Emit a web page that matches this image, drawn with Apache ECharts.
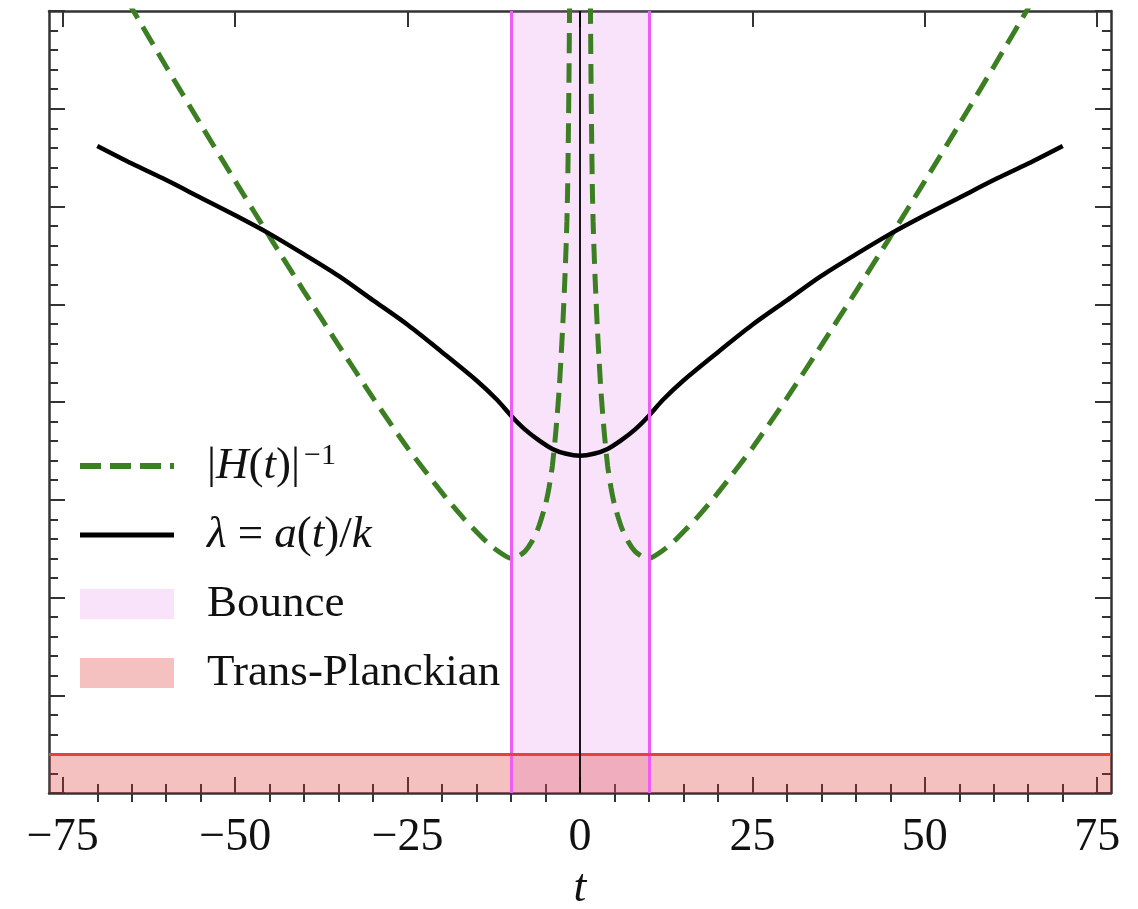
<!DOCTYPE html>
<html>
<head>
<meta charset="utf-8">
<script src="https://cdn.jsdelivr.net/npm/echarts@6.0.0/dist/echarts.min.js"></script>
<style>
  html, body { margin: 0; padding: 0; background: #fff; }
  #main { width: 1138px; height: 909px; }
</style>
</head>
<body>
<div id="main"></div>
<script>
// tick positions on t axis
const majorTicks = [-75, -50, -25, 0, 25, 50, 75]
const minorTicks = [-70, -65, -60, -55, -45, -40, -35, -30, -20, -15, -10, -5,
  5, 10, 15, 20, 30, 35, 40, 45, 55, 60, 65, 70]

// lambda = a(t)/k
const lambdaT = [-70, -65, -60, -55, -50, -45, -40, -35, -30, -25, -20, -15, -12, -10, -8, -6, -4, -2, 0,
  2, 4, 6, 8, 10, 12, 15, 20, 25, 30, 35, 40, 45, 50, 55, 60, 65, 70]
const lambdaVals = [6.62, 6.44, 6.27, 6.09, 5.91, 5.72, 5.51, 5.29, 5.04, 4.79, 4.51, 4.22, 4.02, 3.86, 3.72, 3.61, 3.52, 3.47, 3.45,
  3.47, 3.52, 3.61, 3.72, 3.86, 4.02, 4.22, 4.51, 4.79, 5.04, 5.29, 5.51, 5.72, 5.91, 6.09, 6.27, 6.44, 6.62]

// |H(t)|^-1, two branches either side of the bounce
const hubbleLeftT = [-70, -65, -60, -55, -50, -45, -40, -35, -30, -25, -20, -17, -14, -12, -10, -9, -8, -7, -6, -5,
  -4.5, -4, -3.5, -3, -2.5, -2.2, -2, -1.9, -1.8, -1.7, -1.6, -1.5, -1.4]
const hubbleLeftVals = [8.63, 8.03, 7.43, 6.84, 6.26, 5.69, 5.13, 4.58, 4.04, 3.53, 3.07, 2.82, 2.60, 2.48, 2.40, 2.42, 2.47, 2.57, 2.72, 2.95,
  3.12, 3.35, 3.70, 4.15, 4.78, 5.25, 5.62, 5.85, 6.15, 6.65, 7.30, 8.15, 9.30]
const hubbleRightT = [1.4, 1.5, 1.6, 1.7, 1.8, 1.9, 2, 2.2, 2.5, 3, 3.5, 4, 4.5, 5, 6, 7, 8, 9, 10,
  12, 14, 17, 20, 25, 30, 35, 40, 45, 50, 55, 60, 65, 70]
const hubbleRightVals = [9.30, 8.15, 7.30, 6.65, 6.15, 5.85, 5.62, 5.25, 4.78, 4.15, 3.70, 3.35, 3.12, 2.95, 2.72, 2.57, 2.47, 2.42, 2.40,
  2.48, 2.60, 2.82, 3.07, 3.53, 4.04, 4.58, 5.13, 5.69, 6.26, 6.84, 7.43, 8.03, 8.63]

// shaded regions
const bounceRange = [-10, 10]
const planckTop = 0.4

const pair = (ts, vs) => ts.map((t, i) => [t, vs[i]])

const chart = echarts.init(document.getElementById('main'))

const serif = 'Liberation Serif, DejaVu Serif, serif'
const frame = { color: '#333', width: 2.5 }
const tickStyle = { color: '#333', width: 2 }
const green = '#3b7f22'
const dash = [20, 10]

const H_NAME = 'H'
const L_NAME = 'lambda'

const xBase = {
  type: 'value',
  min: -77,
  max: 77,
  splitLine: { show: false },
  axisLabel: { show: false }
}
const yBase = {
  type: 'value',
  min: 0,
  max: 8,
  interval: 1,
  axisLine: { show: true, onZero: false, lineStyle: frame },
  axisTick: { show: true, inside: true, length: 16, lineStyle: tickStyle },
  minorTick: { show: true, splitNumber: 5, length: 9, lineStyle: tickStyle },
  axisLabel: { show: false },
  splitLine: { show: false },
  minorSplitLine: { show: false }
}

const option = {
  animation: false,
  grid: { left: 49, right: 27, top: 11, bottom: 116, outerBoundsMode: 'none', containLabel: false },
  xAxis: [
    Object.assign({}, xBase, {
      position: 'bottom',
      axisLine: { show: true, onZero: false, lineStyle: frame },
      axisTick: { show: true, inside: true, length: 16, customValues: majorTicks, lineStyle: tickStyle },
      axisLabel: {
        show: true,
        customValues: majorTicks,
        margin: 22,
        fontSize: 46,
        fontFamily: serif,
        color: '#111',
        formatter: v => (v < 0 ? '\u2212' + Math.abs(v) : String(v))
      },
      name: 't',
      nameLocation: 'middle',
      nameGap: 72,
      nameTextStyle: { fontSize: 46, fontFamily: serif, fontStyle: 'italic', color: '#111' }
    }),
    Object.assign({}, xBase, {
      position: 'bottom',
      axisLine: { show: false },
      axisTick: { show: true, inside: true, length: 9, customValues: minorTicks, lineStyle: tickStyle }
    }),
    Object.assign({}, xBase, {
      position: 'top',
      axisLine: { show: true, onZero: false, lineStyle: frame },
      axisTick: { show: true, inside: true, length: 16, customValues: majorTicks, lineStyle: tickStyle }
    }),
    Object.assign({}, xBase, {
      position: 'top',
      axisLine: { show: false },
      axisTick: { show: true, inside: true, length: 9, customValues: minorTicks, lineStyle: tickStyle }
    })
  ],
  yAxis: [
    Object.assign({}, yBase, { position: 'left' }),
    Object.assign({}, yBase, { position: 'right' })
  ],
  legend: {
    orient: 'vertical',
    left: 77,
    top: 441,
    padding: 0,
    itemWidth: 94,
    itemHeight: 30,
    itemGap: 24,
    selectedMode: false,
    data: [
      { name: H_NAME, itemStyle: { opacity: 0 }, lineStyle: { color: green, width: 6, type: [21, 9] } },
      { name: L_NAME, itemStyle: { opacity: 0 }, lineStyle: { color: '#000', width: 5 } },
      { name: 'Bounce', icon: 'rect', itemStyle: { color: '#f9e3fb' } },
      { name: 'Trans-Planckian', icon: 'rect', itemStyle: { color: '#f4c0c0' } }
    ],
    formatter: name => {
      if (name === H_NAME) return '{u||}{i|H}{u|(}{i|t}{u|)|}{sup|\u22121}'
      if (name === L_NAME) return '{i|\u03bb}{u| = }{i|a}{u|(}{i|t}{u|)/}{i|k}'
      return '{u|' + name + '}'
    },
    textStyle: {
      padding: [0, 0, 0, 28],
      rich: {
        u: { fontSize: 45, fontFamily: serif, color: '#111', lineHeight: 50 },
        i: { fontSize: 45, fontFamily: serif, fontStyle: 'italic', color: '#111', lineHeight: 50 },
        sup: { fontSize: 30, fontFamily: serif, color: '#111', lineHeight: 50, verticalAlign: 'top', padding: [0, 0, 0, 4] }
      }
    }
  },
  series: [
    {
      name: 'Bounce',
      type: 'line',
      data: [],
      z: 1,
      itemStyle: { color: '#f9e3fb' },
      markArea: {
        silent: true,
        itemStyle: { color: 'rgba(225, 115, 235, 0.2)' },
        data: [[{ xAxis: bounceRange[0] }, { xAxis: bounceRange[1] }]]
      },
      markLine: {
        silent: true,
        symbol: 'none',
        label: { show: false },
        lineStyle: { color: '#ee5cf5', width: 3, type: 'solid' },
        data: [{ xAxis: bounceRange[0] }, { xAxis: bounceRange[1] }]
      }
    },
    {
      name: 'Trans-Planckian',
      type: 'line',
      data: [],
      z: 2,
      itemStyle: { color: '#f4c0c0' },
      markArea: {
        silent: true,
        itemStyle: { color: 'rgba(218, 45, 45, 0.3)' },
        data: [[{ yAxis: 0 }, { yAxis: planckTop }]]
      },
      markLine: {
        silent: true,
        symbol: 'none',
        label: { show: false },
        lineStyle: { color: '#e8403c', width: 3, type: 'solid' },
        data: [{ yAxis: planckTop }]
      }
    },
    {
      name: H_NAME,
      type: 'line',
      z: 3,
      showSymbol: false,
      symbol: 'none',
      smooth: 0.2,
      itemStyle: { color: green },
      lineStyle: { color: green, width: 5, type: dash },
      data: pair(hubbleLeftT, hubbleLeftVals)
    },
    {
      name: H_NAME,
      type: 'line',
      z: 3,
      showSymbol: false,
      symbol: 'none',
      smooth: 0.2,
      itemStyle: { color: green },
      lineStyle: { color: green, width: 5, type: dash },
      data: pair(hubbleRightT, hubbleRightVals)
    },
    {
      name: L_NAME,
      type: 'line',
      z: 4,
      showSymbol: false,
      symbol: 'none',
      smooth: 0.3,
      itemStyle: { color: '#000' },
      lineStyle: { color: '#000', width: 4.5 },
      data: pair(lambdaT, lambdaVals)
    },
    {
      name: 'zero',
      type: 'line',
      data: [],
      z: 5,
      markLine: {
        silent: true,
        symbol: 'none',
        label: { show: false },
        lineStyle: { color: '#000', width: 1.8, type: 'solid' },
        data: [{ xAxis: 0 }]
      }
    }
  ]
}

chart.setOption(option)
</script>
</body>
</html>
